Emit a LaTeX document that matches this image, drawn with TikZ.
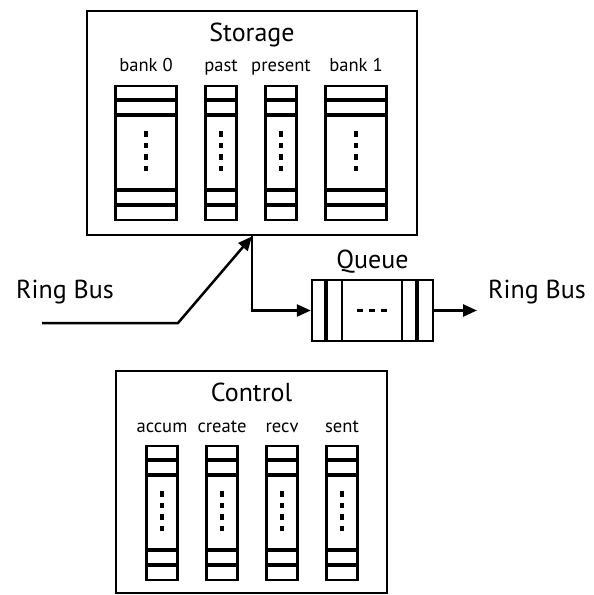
\documentclass[tikz,border=0pt]{standalone}
\usepackage{fontspec}
\setmainfont{PT Sans}
\usetikzlibrary{positioning}
\usetikzlibrary{calc}
\usetikzlibrary{arrows.meta}

% one register column: centre x, top y, width
\newcommand{\regcol}[3]{%
  \draw[slotline] (#1-#3/2,#2) rectangle (#1+#3/2,#2+134);
  \foreach \dy in {14,29,104,119}
    \draw[sepline] (#1-#3/2,#2+\dy) -- (#1+#3/2,#2+\dy);
  \draw[dotline] (#1,#2+45) -- (#1,#2+87);
}

\begin{document}
\begin{tikzpicture}[x=0.5pt,y=-0.5pt,
  unit/.style={draw, line width=1.45pt, inner sep=0pt},
  slotline/.style={line width=1.15pt},
  sepline/.style={line width=1.75pt},
  dotline/.style={line width=1.7pt, dash pattern=on 2.8pt off 3pt},
  title/.style={anchor=base, font=\fontsize{13}{15}\selectfont},
  sub/.style={anchor=base, font=\fontsize{9.3}{11}\selectfont},
  bus/.style={line width=1.25pt, -{Triangle[length=7pt,width=6pt]}}]
\useasboundingbox (0,0) rectangle (594,595);

% storage unit
\node[unit, minimum width=165pt, minimum height=112pt](storage) at (252,123){};
\node[title](storageT) at (252,41){Storage};
\foreach \cx/\w/\txt in {146/61/bank 0, 221/31/past, 281/31/present, 356/61/bank 1}{
  \node[sub] at (\cx,71){\txt};
  \regcol{\cx}{86}{\w}
}

% queue
\node[unit, line width=1.2pt, minimum width=60.5pt, minimum height=30.5pt](queue) at (372.5,310.5){};
\node[title](queueT) at (372.5,268){Queue};
\foreach \qx in {342,402}
  \draw[slotline] (\qx,280) -- (\qx,341);
\foreach \qx in {326,417}
  \draw[sepline] (\qx,280) -- (\qx,341);
\draw[dotline, dash pattern=on 3pt off 3pt] (357,310.5) -- (387,310.5);

% control unit
\node[unit, minimum width=135.5pt, minimum height=111pt](control) at (251.5,482){};
\node[title](controlT) at (251.5,401){Control};
\foreach \cx/\txt in {162/accum, 222/create, 282/recv, 342/sent}{
  \node[sub] at (\cx,432){\txt};
  \regcol{\cx}{446}{31}
}

% ring bus
\node[title](busL) at (65,298){Ring Bus};
\node[title](busR) at (537,298){Ring Bus};
\coordinate (busIn) at (42,323);
\coordinate (busBend) at (178,323);
\coordinate (busOut) at (477,310.5);

\draw[bus] (busIn) -- (busBend) -- (storage.south);
\draw[bus] (storage.south) |- (queue.west);
\draw[bus] (queue.east) -- (busOut);
\end{tikzpicture}
\end{document}
